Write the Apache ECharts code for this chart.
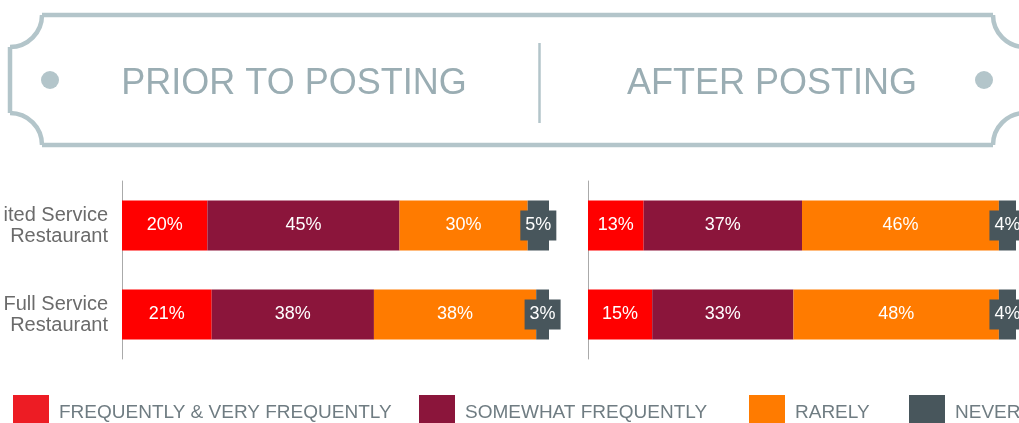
<!DOCTYPE html>
<html>
<head>
<meta charset="utf-8">
<script src="https://cdn.jsdelivr.net/npm/echarts@6/dist/echarts.min.js"></script>
<style>
html,body{margin:0;padding:0;background:#fff;}
#chart{width:1019px;height:423px;}
</style>
</head>
<body>
<div id="chart"></div>
<script>
// ---- data ----
const categories = ['ited Service\nRestaurant', 'Full Service\nRestaurant'];
const seriesNames = ['FREQUENTLY & VERY FREQUENTLY', 'SOMEWHAT FREQUENTLY', 'RARELY', 'NEVER'];
const panelTitles = ['PRIOR TO POSTING', 'AFTER POSTING'];
const priorFrequent = [20, 21];
const priorSomewhat = [45, 38];
const priorRarely = [30, 38];
const priorNever = [5, 3];
const afterFrequent = [13, 15];
const afterSomewhat = [37, 33];
const afterRarely = [46, 48];
const afterNever = [4, 4];

// ---- styles ----
const barColors = ['#ff0000', '#8b153b', '#ff7b00', '#48565c'];
const legendColors = ['#ed1c24', '#8b153b', '#ff7b00', '#48565c'];
const frameColor = '#b3c5ca';
const titleColor = '#9aadb3';
const FONT = '"Liberation Sans", Arial, sans-serif';

const priorData = [priorFrequent, priorSomewhat, priorRarely, priorNever];
const afterData = [afterFrequent, afterSomewhat, afterRarely, afterNever];

function makeSeries(dataSets, axisIndex, stackName) {
  return dataSets.map((d, i) => {
    const isNever = i === 3;
    return {
      name: seriesNames[i],
      type: 'bar',
      stack: stackName,
      xAxisIndex: axisIndex,
      yAxisIndex: axisIndex,
      barWidth: 50,
      data: d,
      itemStyle: { color: barColors[i] },
      label: Object.assign({
        show: true,
        position: 'inside',
        formatter: '{c}%',
        color: '#ffffff',
        fontSize: 18,
        fontFamily: FONT
      }, isNever ? { backgroundColor: '#48565c', padding: [6, 5] } : {}),
      emphasis: { disabled: true }
    };
  });
}

const legendLefts = [13, 419, 749, 909];
const legends = seriesNames.map((n, i) => ({
  left: legendLefts[i],
  top: 395,
  padding: 0,
  icon: 'rect',
  itemWidth: 36,
  itemHeight: 36,
  selectedMode: false,
  data: [{ name: n, itemStyle: { color: legendColors[i] } }],
  textStyle: { color: '#6f7c82', fontSize: 19, fontFamily: FONT, padding: [0, 0, 0, 5] }
}));

const lineStyle = { stroke: frameColor, lineWidth: 4.5, fill: null };
const graphic = [
  { type: 'line', shape: { x1: 42, y1: 15, x2: 993, y2: 15 }, style: lineStyle },
  { type: 'line', shape: { x1: 42, y1: 145, x2: 993, y2: 145 }, style: lineStyle },
  { type: 'line', shape: { x1: 10, y1: 47, x2: 10, y2: 113 }, style: lineStyle },
  { type: 'line', shape: { x1: 1025, y1: 47, x2: 1025, y2: 113 }, style: lineStyle },
  { type: 'arc', shape: { cx: 10, cy: 15, r: 32, startAngle: 0, endAngle: Math.PI / 2, clockwise: true }, style: lineStyle },
  { type: 'arc', shape: { cx: 10, cy: 145, r: 32, startAngle: -Math.PI / 2, endAngle: 0, clockwise: true }, style: lineStyle },
  { type: 'arc', shape: { cx: 1025, cy: 15, r: 32, startAngle: Math.PI / 2, endAngle: Math.PI, clockwise: true }, style: lineStyle },
  { type: 'arc', shape: { cx: 1025, cy: 145, r: 32, startAngle: Math.PI, endAngle: Math.PI * 1.5, clockwise: true }, style: lineStyle },
  { type: 'circle', shape: { cx: 50, cy: 80, r: 9 }, style: { fill: frameColor } },
  { type: 'circle', shape: { cx: 984, cy: 80, r: 9 }, style: { fill: frameColor } },
  { type: 'line', shape: { x1: 539.5, y1: 43, x2: 539.5, y2: 123 }, style: { stroke: frameColor, lineWidth: 2.5 } },
  { type: 'text', x: 294, y: 84, style: { text: panelTitles[0], fill: titleColor, fontSize: 36, fontFamily: FONT, align: 'center', verticalAlign: 'middle' } },
  { type: 'text', x: 772, y: 84, style: { text: panelTitles[1], fill: titleColor, fontSize: 36, fontFamily: FONT, align: 'center', verticalAlign: 'middle' } }
];

const chart = echarts.init(document.getElementById('chart'), null, { renderer: 'canvas' });
chart.setOption({
  animation: false,
  backgroundColor: '#ffffff',
  legend: legends,
  graphic: graphic,
  grid: [
    { left: 122, width: 427, top: 181, height: 178 },
    { left: 588, width: 428, top: 181, height: 178 }
  ],
  xAxis: [
    { type: 'value', gridIndex: 0, min: 0, max: 100, show: false },
    { type: 'value', gridIndex: 1, min: 0, max: 100, show: false }
  ],
  yAxis: [
    {
      type: 'category', gridIndex: 0, data: categories, inverse: true,
      axisLine: { show: true, lineStyle: { color: '#aaaaaa', width: 1 } },
      axisTick: { show: false },
      axisLabel: { color: '#6b6b6b', fontSize: 20, lineHeight: 21, margin: 14, fontFamily: FONT, align: 'right' }
    },
    {
      type: 'category', gridIndex: 1, data: categories, inverse: true,
      axisLine: { show: true, lineStyle: { color: '#aaaaaa', width: 1 } },
      axisTick: { show: false },
      axisLabel: { show: false }
    }
  ],
  series: makeSeries(priorData, 0, 'prior').concat(makeSeries(afterData, 1, 'after'))
});
</script>
</body>
</html>
